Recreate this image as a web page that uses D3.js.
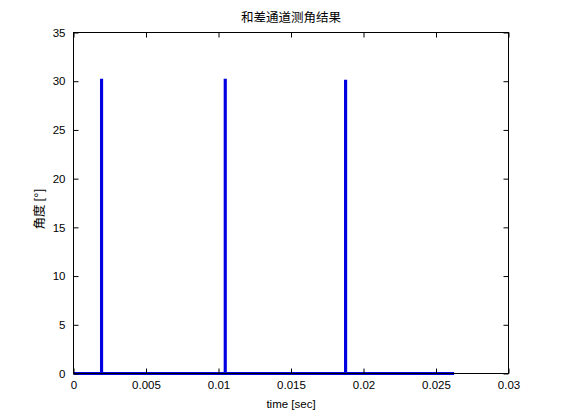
<!DOCTYPE html>
<html><head><meta charset="utf-8">
<script src="https://cdn.jsdelivr.net/npm/d3@7"></script>
<style>
html,body{margin:0;padding:0;background:#fff;}
svg{display:block;}
text{font-family:"Liberation Sans",Arial,sans-serif;fill:#000;}
</style></head>
<body>
<svg id="c" width="561" height="420"></svg>
<script>
// data
const timeValues  = [0, 0.00193, 0.00193, 0.00194, 0.00194, 0.01046, 0.01046, 0.01047, 0.01047, 0.01876, 0.01876, 0.01877, 0.01877, 0.02625];
const angleValues = [0, 0,       30.1,    30.1,    0,       0,       30.1,    30.1,    0,       0,       30.0,    30.0,    0,       0];
const xTicks = [0, 0.005, 0.01, 0.015, 0.02, 0.025, 0.03];
const xTickLabels = ["0", "0.005", "0.01", "0.015", "0.02", "0.025", "0.03"];
const yTicks = [0, 5, 10, 15, 20, 25, 30, 35];
const titleText = "和差通道测角结果";
const xLabelText = "time [sec]";
const yLabelText = "角度 [°]";

const svg = d3.select("#c");
const L = 73.5, R = 508.5, T = 32.5, B = 373.5;
const x = d3.scaleLinear().domain([0, 0.03]).range([L, R]);
const y = d3.scaleLinear().domain([0, 35]).range([B, T]);

svg.append("rect").attr("x", L).attr("y", T).attr("width", R - L).attr("height", B - T)
  .attr("fill", "#fff").attr("stroke", "none");

// data line
const line = d3.line().x((d, i) => x(timeValues[i])).y((d, i) => y(angleValues[i]));
svg.append("path").datum(timeValues).attr("d", line)
  .attr("fill", "none").attr("stroke", "#0000e0").attr("stroke-width", 3)
  .attr("stroke-linejoin", "miter").attr("stroke-linecap", "butt");

const tickLen = 5;
const fmt = (d) => xTickLabels[xTicks.indexOf(d)];
const xb = d3.axisBottom(x).tickValues(xTicks).tickFormat(fmt).tickSizeInner(-tickLen).tickSizeOuter(0).tickPadding(8);
const gxb = svg.append("g").attr("transform", `translate(0,${B})`).call(xb);
const xt = d3.axisTop(x).tickValues(xTicks).tickFormat("").tickSizeInner(-tickLen).tickSizeOuter(0);
const gxt = svg.append("g").attr("transform", `translate(0,${T})`).call(xt);
const yl = d3.axisLeft(y).tickValues(yTicks).tickSizeInner(-tickLen).tickSizeOuter(0).tickPadding(8);
const gyl = svg.append("g").attr("transform", `translate(${L},0)`).call(yl);
const yr = d3.axisRight(y).tickValues(yTicks).tickFormat("").tickSizeInner(-tickLen).tickSizeOuter(0);
const gyr = svg.append("g").attr("transform", `translate(${R},0)`).call(yr);

[gxb, gxt, gyl, gyr].forEach(g => {
  g.select(".domain").remove();
  g.selectAll("line").attr("stroke", "#000").attr("stroke-width", 1);
  g.selectAll("text").attr("fill", "#000").style("font-size", "11.5px")
    .style("font-family", "'Liberation Sans', Arial, sans-serif");
});
gxb.selectAll("text").attr("dy", "0.71em").attr("y", 7);

svg.append("rect").attr("x", L).attr("y", T).attr("width", R - L).attr("height", B - T)
  .attr("fill", "none").attr("stroke", "#000").attr("stroke-width", 1);

svg.append("text").attr("x", (L + R) / 2).attr("y", 22).attr("text-anchor", "middle")
  .attr("fill", "#000")
  .style("font-family", "'Noto Sans CJK SC', sans-serif").style("font-size", "12.5px")
  .text(titleText);
svg.append("text").attr("x", (L + R) / 2).attr("y", 408).attr("text-anchor", "middle")
  .attr("fill", "#000")
  .style("font-size", "11.5px").text(xLabelText);
svg.append("text").attr("transform", `translate(44,209) rotate(-90)`)
  .attr("text-anchor", "middle").attr("fill", "#000")
  .style("font-family", "'Noto Sans CJK SC', sans-serif").style("font-size", "12.5px")
  .text(yLabelText);
</script>
</body></html>
